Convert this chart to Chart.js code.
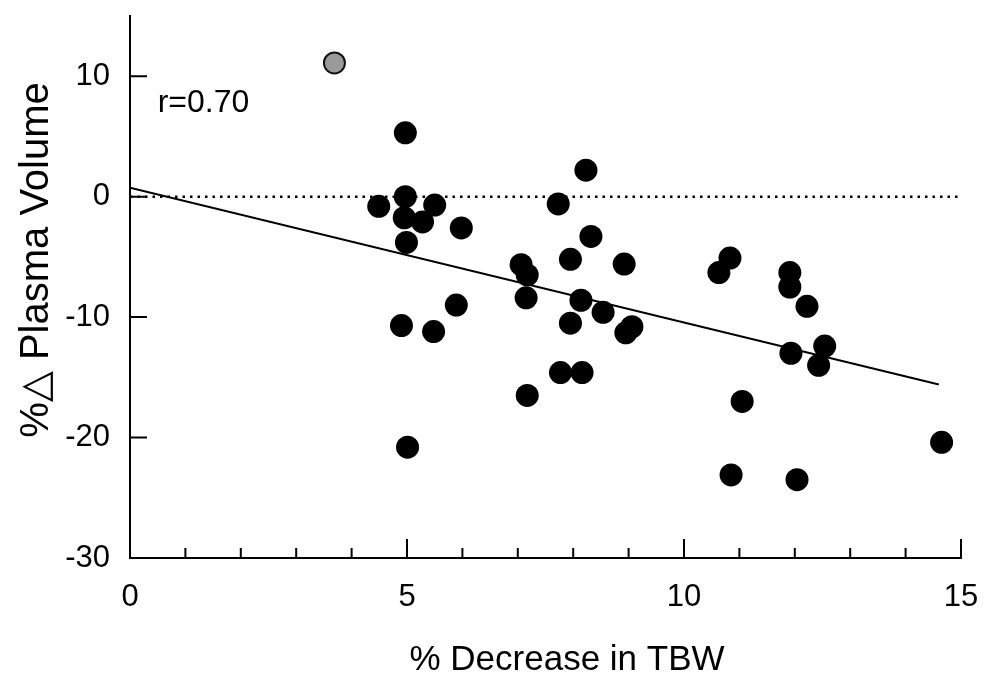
<!DOCTYPE html>
<html>
<head>
<meta charset="utf-8">
<script src="https://cdn.jsdelivr.net/npm/chart.js@4.4.1/dist/chart.umd.min.js"></script>
<style>
  html, body { margin: 0; padding: 0; background: #fff; }
  #wrap { width: 988px; height: 688px; }
</style>
</head>
<body>
<div id="wrap"><canvas id="pvChart" width="988" height="688"></canvas></div>
<script>
// % decrease in total body water vs % change in plasma volume
const tbwDecrease = [4.97, 4.49, 4.97, 5.50, 4.95, 5.28, 5.98, 4.99, 4.90, 5.48, 5.89, 5.01,
  8.23, 7.73, 8.32, 7.95, 8.92, 7.06, 7.17, 7.15, 8.14, 8.54, 7.95, 8.95, 9.06, 7.17, 7.77, 8.16,
  10.83, 10.63, 11.91, 11.91, 12.22, 11.93, 12.54, 12.43, 11.05, 10.85, 12.04, 14.65];
const plasmaChange = [5.3, -0.8, 0.0, -0.7, -1.75, -2.1, -2.6, -3.8, -10.7, -11.2, -9.0, -20.8,
  2.2, -0.6, -3.3, -5.2, -5.6, -5.65, -6.5, -8.4, -8.6, -9.6, -10.5, -11.3, -10.8, -16.5, -14.6, -14.6,
  -5.1, -6.3, -6.3, -7.5, -9.1, -13.0, -12.4, -14.0, -17.0, -23.1, -23.5, -20.4];

// the one grey (shaded) subject
const outlierX = [3.69];
const outlierY = [11.1];

// regression line, r = 0.70
const fitX = [0, 14.6];
const fitY = [0.75, -15.6];

const zeroX = [0, 15];
const zeroY = [0, 0];

const xTicks = [0, 5, 10, 15];
const xMinorTicks = [1, 2, 3, 4, 6, 7, 8, 9, 11, 12, 13, 14];
const yTicks = [-30, -20, -10, 0, 10];

const toPoints = (xs, ys) => xs.map((x, i) => ({ x: x, y: ys[i] }));

const FONT = '"Liberation Sans", Arial, Helvetica, sans-serif';

// inward tick marks, axis titles and the r value
const decorations = {
  id: 'decorations',
  afterDraw(chart) {
    const ctx = chart.ctx;
    const xs = chart.scales.x;
    const ys = chart.scales.y;
    const area = chart.chartArea;
    ctx.save();
    ctx.strokeStyle = '#000';
    ctx.lineWidth = 2;
    ctx.beginPath();
    yTicks.filter(v => v !== -30).forEach(v => {
      const py = ys.getPixelForValue(v);
      ctx.moveTo(area.left, py);
      ctx.lineTo(area.left + 17, py);
    });
    xTicks.filter(v => v !== 0).forEach(v => {
      const px = xs.getPixelForValue(v);
      ctx.moveTo(px, area.bottom);
      ctx.lineTo(px, area.bottom - 19);
    });
    xMinorTicks.forEach(v => {
      const px = xs.getPixelForValue(v);
      ctx.moveTo(px, area.bottom);
      ctx.lineTo(px, area.bottom - 10);
    });
    ctx.stroke();

    ctx.fillStyle = '#000';
    ctx.font = '35px ' + FONT;
    ctx.textAlign = 'center';
    ctx.textBaseline = 'alphabetic';
    ctx.fillText('% Decrease in TBW', 567, 670);

    ctx.save();
    ctx.translate(48, 260);
    ctx.rotate(-Math.PI / 2);
    ctx.font = '40px ' + FONT;
    ctx.fillText('%\u25B3 Plasma Volume', 0, 0);
    ctx.restore();

    ctx.font = '32px ' + FONT;
    ctx.textAlign = 'left';
    ctx.textBaseline = 'middle';
    ctx.fillText('r=0.70', xs.getPixelForValue(0.5), ys.getPixelForValue(7.8));
    ctx.restore();
  }
};

new Chart(document.getElementById('pvChart'), {
  type: 'scatter',
  data: {
    datasets: [
      {
        label: 'subjects',
        data: toPoints(tbwDecrease, plasmaChange),
        backgroundColor: '#000',
        borderWidth: 0,
        pointRadius: 11.5,
        order: 0
      },
      {
        label: 'shaded subject',
        data: toPoints(outlierX, outlierY),
        backgroundColor: '#9a9a9a',
        borderColor: '#111',
        borderWidth: 2,
        pointRadius: 10.5,
        order: 0
      },
      {
        type: 'line',
        label: 'fit',
        data: toPoints(fitX, fitY),
        borderColor: '#000',
        borderWidth: 2,
        pointRadius: 0,
        fill: false,
        order: 2
      },
      {
        type: 'line',
        label: 'zero',
        data: toPoints(zeroX, zeroY),
        borderColor: '#000',
        borderWidth: 2.5,
        borderDash: [2.5, 5],
        pointRadius: 0,
        fill: false,
        order: 3
      }
    ]
  },
  options: {
    responsive: false,
    devicePixelRatio: 1,
    animation: false,
    events: [],
    layout: { padding: { top: 16, right: 27, left: 0, bottom: 0 } },
    plugins: {
      legend: { display: false },
      tooltip: { enabled: false }
    },
    scales: {
      x: {
        type: 'linear',
        min: 0,
        max: 15,
        afterFit: s => { s.height = 130; s.paddingLeft = 0; s.paddingRight = 0; },
        afterBuildTicks: s => { s.ticks = xTicks.map(v => ({ value: v })); },
        grid: { display: false, drawTicks: false },
        border: { display: true, color: '#000', width: 2 },
        ticks: {
          color: '#000',
          padding: 21,
          maxRotation: 0,
          autoSkip: false,
          font: { family: FONT, size: 31 }
        }
      },
      y: {
        type: 'linear',
        min: -30,
        max: 15,
        afterFit: s => { s.width = 130; s.paddingTop = 0; s.paddingBottom = 0; },
        afterBuildTicks: s => { s.ticks = yTicks.map(v => ({ value: v })); },
        grid: { display: false, drawTicks: false },
        border: { display: true, color: '#000', width: 2 },
        ticks: {
          color: '#000',
          padding: 20,
          autoSkip: false,
          font: { family: FONT, size: 31 }
        }
      }
    }
  },
  plugins: [decorations]
});
</script>
</body>
</html>
